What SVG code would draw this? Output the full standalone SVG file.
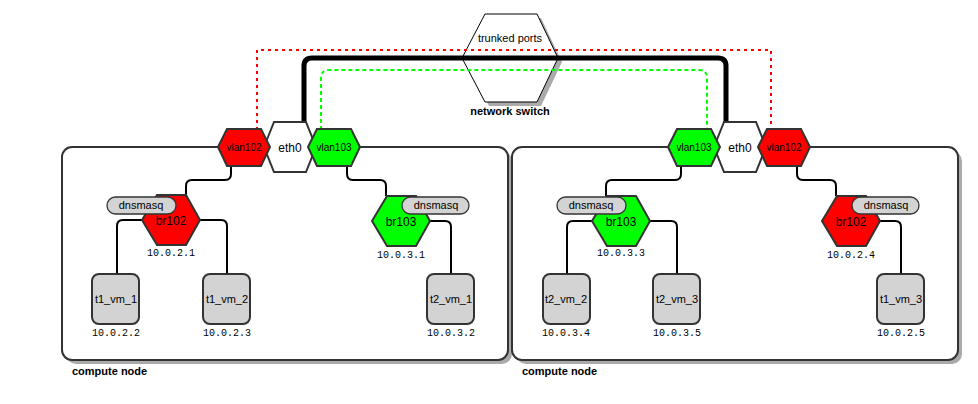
<svg xmlns="http://www.w3.org/2000/svg" width="978" height="404" viewBox="0 0 978 404">
<defs><style>
.cont{fill:#fff;stroke:#333;stroke-width:2}
.sh{fill:#aaa}
.hx{stroke:#333;stroke-width:2}
.r{fill:#f00}.g{fill:#0f0}.w{fill:#fff}
.vm{fill:#d3d3d3;stroke:#333;stroke-width:2}
.pill{fill:#d3d3d3;stroke:#333;stroke-width:1.3}
.c{fill:none;stroke:#000;stroke-width:2}
text{font-family:"Liberation Sans",Arial,sans-serif;font-size:11px;text-anchor:middle;fill:#000}
.ip{font-family:"Liberation Mono","DejaVu Sans Mono",monospace;font-size:10px}
.b{font-weight:bold;text-anchor:start}
</style></defs>
<g id="switch">
<polygon class="sh" points="489,18 541,18 562,62 541,106 489,106 466,62"/>
<polygon fill="#fff" stroke="#000" stroke-width="1" points="485,14 537,14 558,58 537,102 485,102 462,58"/>
<text x="510" y="42">trunked ports</text>
<text x="510" y="115" class="b" style="text-anchor:middle">network switch</text>
</g>
<g id="node1">
<rect class="sh" x="66" y="151" width="446" height="213" rx="10"/>
<rect class="cont" x="62" y="147" width="446" height="213" rx="10"/>
<text x="72" y="375" class="b">compute node</text>
</g>
<g id="node2">
<rect class="sh" x="516" y="151" width="446" height="213" rx="10"/>
<rect class="cont" x="512" y="147" width="446" height="213" rx="10"/>
<text x="522" y="375" class="b">compute node</text>
</g>
<g id="connectors">
<path d="M257,130 V50 H771 V130" fill="none" stroke="#f00" stroke-width="2" stroke-dasharray="3,4"/>
<path d="M321,130 V78 Q321,70 329,70 H699 Q707,70 707,78 V130" fill="none" stroke="#0f0" stroke-width="2" stroke-dasharray="4,3"/>
<path d="M304,124 V66 Q304,58 312,58 H718 Q726,58 726,66 V124" fill="none" stroke="#000" stroke-width="5"/>
<path class="c" d="M231,166 V174 Q231,180 225,180 H192 Q186,180 186,186 V196"/>
<path class="c" d="M142,220 H123 Q117,220 117,226 V274"/>
<path class="c" d="M200,220 H221 Q227,220 227,226 V274"/>
<path class="c" d="M347,166 V174 Q347,180 353,180 H380 Q386,180 386,186 V196"/>
<path class="c" d="M430,221 H445 Q451,221 451,227 V274"/>
<path class="c" d="M681,166 V174 Q681,180 675,180 H612 Q606,180 606,186 V196"/>
<path class="c" d="M592,221 H573 Q567,221 567,227 V274"/>
<path class="c" d="M650,221 H671 Q677,221 677,227 V274"/>
<path class="c" d="M797,166 V174 Q797,180 803,180 H830 Q836,180 836,186 V196"/>
<path class="c" d="M880,221 H895 Q901,221 901,227 V274"/>
</g>
<g id="eth0-1"><polygon class="hx w" points="264,147 274,122 306,122 316,147 306,172 274,172"/><text x="290" y="152" style="font-size:12px">eth0</text></g>
<g id="vlan102-1"><polygon class="hx r" points="218,147 227,129 261,129 270,147 261,166 227,166"/><text x="244" y="151" style="font-size:10px">vlan102</text></g>
<g id="vlan103-1"><polygon class="hx g" points="308,147 317,129 351,129 360,147 351,166 317,166"/><text x="334" y="151" style="font-size:10px">vlan103</text></g>
<g id="br102-1"><polygon class="hx r" points="142,220 157,195 186,195 200,220 186,245 157,245"/><text x="171" y="225" style="font-size:12px">br102</text>
<rect class="pill" x="107" y="197" width="69" height="17" rx="8.5"/><text x="141" y="209">dnsmasq</text><text class="ip" x="171" y="256">10.0.2.1</text></g>
<g id="br103-1"><polygon class="hx g" points="372,221 387,196 416,196 430,221 416,246 387,246"/><text x="401" y="226" style="font-size:12px">br103</text>
<rect class="pill" x="402" y="197" width="67" height="17" rx="8.5"/><text x="436" y="209">dnsmasq</text><text class="ip" x="401" y="258">10.0.3.1</text></g>
<g id="t1_vm_1"><rect class="vm" x="92" y="274" width="47" height="50" rx="7"/><text x="116" y="303">t1_vm_1</text><text class="ip" x="116" y="336">10.0.2.2</text></g>
<g id="t1_vm_2"><rect class="vm" x="203" y="274" width="47" height="50" rx="7"/><text x="227" y="303">t1_vm_2</text><text class="ip" x="227" y="336">10.0.2.3</text></g>
<g id="t2_vm_1"><rect class="vm" x="427" y="274" width="47" height="50" rx="7"/><text x="451" y="303">t2_vm_1</text><text class="ip" x="451" y="336">10.0.3.2</text></g>
<g id="eth0-2"><polygon class="hx w" points="714,147 724,122 756,122 766,147 756,172 724,172"/><text x="740" y="152" style="font-size:12px">eth0</text></g>
<g id="vlan103-2"><polygon class="hx g" points="668,147 677,129 711,129 720,147 711,166 677,166"/><text x="694" y="151" style="font-size:10px">vlan103</text></g>
<g id="vlan102-2"><polygon class="hx r" points="758,147 767,129 801,129 810,147 801,166 767,166"/><text x="784" y="151" style="font-size:10px">vlan102</text></g>
<g id="br103-2"><polygon class="hx g" points="592,221 607,196 636,196 650,221 636,246 607,246"/><text x="621" y="226" style="font-size:12px">br103</text>
<rect class="pill" x="557" y="197" width="69" height="17" rx="8.5"/><text x="591" y="209">dnsmasq</text><text class="ip" x="621" y="256">10.0.3.3</text></g>
<g id="br102-2"><polygon class="hx r" points="822,221 837,196 866,196 880,221 866,246 837,246"/><text x="851" y="226" style="font-size:12px">br102</text>
<rect class="pill" x="852" y="197" width="67" height="17" rx="8.5"/><text x="886" y="209">dnsmasq</text><text class="ip" x="851" y="258">10.0.2.4</text></g>
<g id="t2_vm_2"><rect class="vm" x="543" y="274" width="47" height="50" rx="7"/><text x="566" y="303">t2_vm_2</text><text class="ip" x="566" y="336">10.0.3.4</text></g>
<g id="t2_vm_3"><rect class="vm" x="653" y="274" width="47" height="50" rx="7"/><text x="677" y="303">t2_vm_3</text><text class="ip" x="677" y="336">10.0.3.5</text></g>
<g id="t1_vm_3"><rect class="vm" x="877" y="274" width="47" height="50" rx="7"/><text x="901" y="303">t1_vm_3</text><text class="ip" x="901" y="336">10.0.2.5</text></g>
</svg>
